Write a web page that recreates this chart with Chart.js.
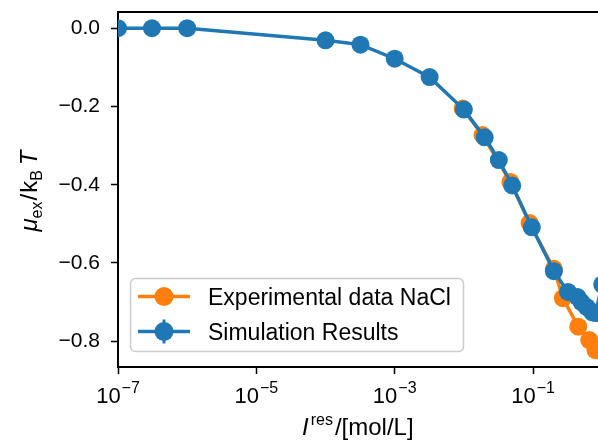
<!DOCTYPE html>
<html>
<head>
<meta charset="utf-8">
<script src="https://cdn.jsdelivr.net/npm/chart.js@4.4.1/dist/chart.umd.min.js"></script>
<style>
  html, body { margin: 0; padding: 0; background: #fff; }
  #wrap { width: 598px; height: 442px; }
</style>
</head>
<body>
<div id="wrap"><canvas id="chart" width="598" height="442"></canvas></div>
<script>
// ─── Data ────────────────────────────────────────────────────
const simConc = [1e-7, 3.1e-7, 1e-6, 1e-4, 3.2e-4, 1e-3, 3.2e-3, 1e-2, 0.02, 0.032, 0.05, 0.096,
                 0.2, 0.32, 0.44, 0.5, 0.6, 0.72, 0.8, 1.0];
const simMu   = [0, 0, 0, -0.031, -0.042, -0.078, -0.125, -0.208, -0.279, -0.337, -0.402, -0.509,
                 -0.621, -0.674, -0.687, -0.700, -0.713, -0.726, -0.728, -0.655];

const expConc = [0.0096, 0.0186, 0.047, 0.089, 0.2, 0.27, 0.45, 0.65, 0.8];
const expMu   = [-0.205, -0.273, -0.393, -0.498, -0.615, -0.69, -0.763, -0.797, -0.823];

const xTicks     = [1e-7, 1e-5, 1e-3, 1e-1];
const xTickBase  = ['10', '10', '10', '10'];
const xTickExp   = ['−7', '−5', '−3', '−1'];
const yTicks     = [0, -0.2, -0.4, -0.6, -0.8];
const yTickLabels = ['0.0', '−0.2', '−0.4', '−0.6', '−0.8'];

const seriesNames = ['Experimental data NaCl', 'Simulation Results'];

// ─── Style ───────────────────────────────────────────────────
const FONT   = '"Liberation Sans", Arial, sans-serif';
const BLUE   = '#1f77b4';
const ORANGE = '#ff7f0e';

const toPoints = (xs, ys) => xs.map((x, i) => ({ x, y: ys[i] }));

// draw a run of text pieces (for sub/superscripts), returns total width
function drawPieces(ctx, pieces, x, y, measureOnly) {
  let w = 0;
  for (const p of pieces) {
    ctx.font = p.font;
    if (!measureOnly) ctx.fillText(p.t, x + w, y + (p.dy || 0));
    w += ctx.measureText(p.t).width + (p.gap || 0);
  }
  return w;
}

const decorations = {
  id: 'decorations',
  afterDraw(chart) {
    const { ctx, chartArea: a, scales } = chart;
    ctx.save();

    // top spine (right one is cut off in the reference)
    ctx.strokeStyle = '#000';
    ctx.lineWidth = 2;
    ctx.beginPath();
    ctx.moveTo(a.left - 1, a.top);
    ctx.lineTo(a.right, a.top);
    ctx.stroke();

    // x tick labels: 10^n with raised exponent
    ctx.fillStyle = '#000';
    ctx.textAlign = 'left';
    ctx.textBaseline = 'alphabetic';
    xTicks.forEach((v, i) => {
      const px = scales.x.getPixelForValue(v);
      const pieces = [
        { t: xTickBase[i], font: `22px ${FONT}`, gap: 1 },
        { t: xTickExp[i],  font: `16px ${FONT}`, dy: -10 },
      ];
      const w = drawPieces(ctx, pieces, 0, 0, true);
      drawPieces(ctx, pieces, px - w / 2, a.bottom + 36);
    });

    // x axis title
    const xt = [
      { t: 'I', font: `italic 24px ${FONT}`, gap: 2 },
      { t: 'res', font: `16px ${FONT}`, dy: -10, gap: 2 },
      { t: '/[mol/L]', font: `24px ${FONT}` },
    ];
    const xw = drawPieces(ctx, xt, 0, 0, true);
    drawPieces(ctx, xt, 302, 435);

    // y axis title (rotated)
    const yt = [
      { t: 'μ', font: `italic 24px ${FONT}` },
      { t: 'ex', font: `16px ${FONT}`, dy: 5, gap: 1 },
      { t: '/', font: `24px ${FONT}`, gap: 1 },
      { t: 'k', font: `24px ${FONT}` },
      { t: 'B', font: `16px ${FONT}`, dy: 5, gap: 5 },
      { t: 'T', font: `italic 24px ${FONT}` },
    ];
    const yw = drawPieces(ctx, yt, 0, 0, true);
    ctx.save();
    ctx.translate(37, 191);
    ctx.rotate(-Math.PI / 2);
    drawPieces(ctx, yt, -yw / 2, 0);
    ctx.restore();

    // legend (inside axes, lower left)
    const bx = 130.5, by = 278.5, bw = 333, bh = 73;
    ctx.beginPath();
    ctx.roundRect(bx, by, bw, bh, 5);
    ctx.fillStyle = 'rgba(255,255,255,0.8)';
    ctx.fill();
    ctx.strokeStyle = '#cccccc';
    ctx.lineWidth = 1.5;
    ctx.stroke();

    const rows = [
      { color: ORANGE, y: 296.5, err: false },
      { color: BLUE,   y: 331.5, err: true },
    ];
    rows.forEach((r, i) => {
      ctx.strokeStyle = r.color;
      ctx.fillStyle = r.color;
      ctx.lineWidth = 3.5;
      ctx.beginPath();
      ctx.moveTo(138, r.y);
      ctx.lineTo(190, r.y);
      ctx.stroke();
      if (r.err) {
        ctx.lineWidth = 3;
        ctx.beginPath();
        ctx.moveTo(164, r.y - 12);
        ctx.lineTo(164, r.y + 12);
        ctx.stroke();
      }
      ctx.beginPath();
      ctx.arc(164, r.y, 9.5, 0, Math.PI * 2);
      ctx.fill();
      ctx.fillStyle = '#000';
      ctx.font = `23px ${FONT}`;
      ctx.fillText(seriesNames[i], 208, r.y + 8.5);
    });

    ctx.restore();
  },
};

new Chart(document.getElementById('chart'), {
  type: 'scatter',
  data: {
    datasets: [
      {
        label:            seriesNames[1],
        data:             toPoints(simConc, simMu),
        showLine:         true,
        borderColor:      BLUE,
        backgroundColor:  BLUE,
        borderWidth:      3.5,
        pointRadius:      9,
        pointBorderWidth: 0,
        pointBackgroundColor: BLUE,
        tension:          0,
        clip:             0,
        order:            0,
      },
      {
        label:            seriesNames[0],
        data:             toPoints(expConc, expMu),
        showLine:         true,
        borderColor:      ORANGE,
        backgroundColor:  ORANGE,
        borderWidth:      3.5,
        pointRadius:      9,
        pointBorderWidth: 0,
        pointBackgroundColor: ORANGE,
        tension:          0,
        clip:             0,
        order:            1,
      },
    ],
  },
  options: {
    responsive: false,
    animation: false,
    devicePixelRatio: 1,
    layout: { autoPadding: false, padding: { top: 12, right: 0, bottom: 0, left: 0 } },
    plugins: {
      legend:  { display: false },
      tooltip: { enabled: false },
    },
    scales: {
      x: {
        type: 'logarithmic',
        min: 1e-7,
        max: 0.869,
        afterBuildTicks: s => { s.ticks = xTicks.map(v => ({ value: v })); },
        afterFit: s => { s.height = 75; s.paddingLeft = 0; s.paddingRight = 0; },
        ticks: { display: false },
        grid: {
          drawOnChartArea: false,
          drawTicks: true,
          tickLength: 7,
          tickWidth: 1.5,
          tickColor: '#000',
        },
        border: { display: true, color: '#000', width: 2 },
      },
      y: {
        type: 'linear',
        min: -0.8659,
        max: 0.0414,
        afterBuildTicks: s => { s.ticks = yTicks.map(v => ({ value: v })); },
        afterFit: s => { s.width = 118; s.paddingTop = 0; s.paddingBottom = 0; },
        ticks: {
          color: '#000',
          font: { family: FONT, size: 21 },
          padding: 11,
          callback: (v, i) => yTickLabels[i],
        },
        grid: {
          drawOnChartArea: false,
          drawTicks: true,
          tickLength: 7,
          tickWidth: 1.5,
          tickColor: '#000',
        },
        border: { display: true, color: '#000', width: 2 },
      },
    },
  },
  plugins: [decorations],
});
</script>
</body>
</html>
